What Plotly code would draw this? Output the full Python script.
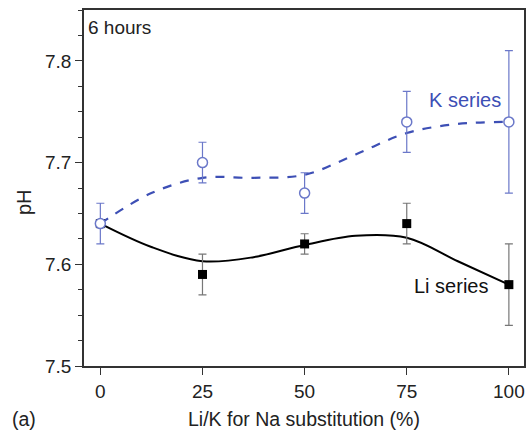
import plotly.graph_objects as go

x = [0, 25, 50, 75, 100]
k_ph = [7.64, 7.70, 7.67, 7.74, 7.74]
k_err = [0.02, 0.02, 0.02, 0.03, 0.07]
li_ph = [7.64, 7.59, 7.62, 7.64, 7.58]
li_err = [0.0, 0.02, 0.01, 0.02, 0.04]

fit_x = [0, 12.5, 25, 37.5, 50, 62.5, 75, 87.5, 100]
k_fit = [7.64, 7.670, 7.685, 7.685, 7.688, 7.708, 7.729, 7.738, 7.74]
li_fit = [7.64, 7.617, 7.603, 7.607, 7.619, 7.628, 7.626, 7.603, 7.58]

blue = "#3d4fb5"
blue_light = "#6b78c9"
text_col = "#222222"
font = "Liberation Sans, Arial, sans-serif"

fig = go.Figure()
fig.add_trace(go.Scatter(x=fit_x, y=li_fit, mode="lines", line=dict(color="black", width=2, shape="spline"), hoverinfo="skip"))
fig.add_trace(go.Scatter(x=fit_x, y=k_fit, mode="lines", line=dict(color=blue, width=2.2, dash="dash", shape="spline"), hoverinfo="skip"))
fig.add_trace(go.Scatter(x=x, y=li_ph, mode="markers",
                         marker=dict(symbol="square", size=9, color="black"),
                         error_y=dict(type="data", array=li_err, color="#777777", thickness=1.2, width=4)))
fig.add_trace(go.Scatter(x=x, y=k_ph, mode="markers",
                         marker=dict(symbol="circle", size=10, color="white", line=dict(color=blue_light, width=1.5)),
                         error_y=dict(type="data", array=k_err, color=blue_light, thickness=1.2, width=4)))

fig.add_annotation(x=-3.4, y=7.833, xref="x", yref="y", xanchor="left", yanchor="middle",
                   text="6 hours", showarrow=False, font=dict(size=19, color=text_col))
fig.add_annotation(x=89.3, y=7.762, xref="x", yref="y", xanchor="center", yanchor="middle",
                   text="K series", showarrow=False, font=dict(size=20, color=blue))
fig.add_annotation(x=85.9, y=7.579, xref="x", yref="y", xanchor="center", yanchor="middle",
                   text="Li series", showarrow=False, font=dict(size=20, color="#111"))
fig.add_annotation(x=-0.165, y=-0.1826, xref="paper", yref="paper", xanchor="left", yanchor="bottom",
                   borderpad=0, text="(a)", showarrow=False, font=dict(size=19.5, color=text_col))
fig.add_annotation(x=0.5, y=-0.1826, xref="paper", yref="paper", xanchor="center", yanchor="bottom",
                   borderpad=0, text="Li/K for Na substitution (%)", showarrow=False, font=dict(size=19.5, color=text_col))
fig.add_annotation(x=-0.136, y=0.461, xref="paper", yref="paper", xanchor="center", yanchor="middle",
                   text="pH", textangle=-90, showarrow=False, font=dict(size=20, color=text_col))

fig.update_layout(
    width=528, height=431, showlegend=False,
    margin=dict(l=84, r=2, t=10, b=65),
    paper_bgcolor="white", plot_bgcolor="white",
    font=dict(family=font, size=19, color=text_col),
    xaxis=dict(range=[-4, 103.7], tickvals=[0, 25, 50, 75, 100], ticks="outside", ticklen=7, tickwidth=1.2,
               tickcolor="#333", showline=True, linecolor="#333", linewidth=1.8, mirror=True, showgrid=False,
               zeroline=False, tickfont=dict(size=19)),
    yaxis=dict(range=[7.5, 7.85], tickvals=[7.5, 7.6, 7.7, 7.8], tickformat=".1f", ticks="outside", ticklen=7,
               tickwidth=1.2, tickcolor="#333", showline=True, linecolor="#333", linewidth=1.8, mirror=True,
               showgrid=False, zeroline=False, tickfont=dict(size=19),
               minor=dict(dtick=0.025, tick0=7.5, ticks="outside", ticklen=4, tickwidth=1.2, tickcolor="#333", showgrid=False)),
)

fig.write_html("out.html", config={"displayModeBar": False},
               post_script="document.body.style.margin='0';document.body.style.overflow='hidden';")
